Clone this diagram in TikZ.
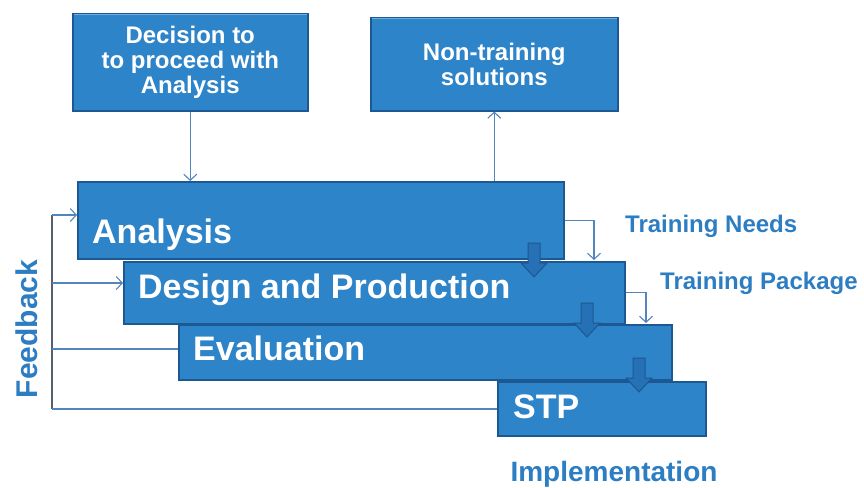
\documentclass[tikz,border=0pt]{standalone}
\usepackage{fontspec}
\setmainfont{Liberation Sans}
\usepackage{xcolor}
\definecolor{azulcaja}{RGB}{46,132,200}
\definecolor{azulosc}{RGB}{28,88,145}
\definecolor{azulcl}{RGB}{110,172,225}
\definecolor{azulflecha}{RGB}{38,112,182}
\definecolor{azultxt}{RGB}{45,125,195}
\definecolor{azullin}{RGB}{82,132,190}
\definecolor{grislin}{RGB}{85,95,110}
\usepackage{tikz}
\usetikzlibrary{shapes, arrows, positioning, arrows.meta}
\newcommand{\B}[1]{\textbf{#1}}
% Flecha gruesa hacia abajo, punta en (#1,#2)
\newcommand{\Flecha}[2]{\filldraw[flecha] (#1-6,#2-34) -- (#1+6,#2-34) -- (#1+6,#2-14) -- (#1+13,#2-14) -- (#1,#2) -- (#1-13,#2-14) -- (#1-6,#2-14) -- cycle;}
\tikzset{
  caja/.style={fill=azulcaja, draw=azulosc, line width=1.5pt, inner sep=0pt, anchor=north west, text=white,
    path picture={\draw[azulcl, line width=2.5pt] (path picture bounding box.south west) -- (path picture bounding box.north west) -- (path picture bounding box.north east);}},
  fase/.style={anchor=base west, text=white, inner sep=0pt, font=\fontsize{34}{40}\selectfont\bfseries},
  etiqueta/.style={anchor=base west, text=azultxt, inner sep=0pt, font=\fontsize{24}{28}\selectfont\bfseries},
  linea/.style={draw=azullin, line width=1.1pt},
  flecha/.style={fill=azulflecha, draw=azulosc, line width=1pt},
  >={Straight Barb[length=6pt,width=13pt]}
}

\begin{document}
\begin{tikzpicture}[x=1pt, y=-1pt]
    \useasboundingbox (0,0) rectangle (864,487);
    % Cajas superiores
    \node[caja, minimum width=235pt, minimum height=97pt, align=center, font=\fontsize{24}{25}\selectfont\bfseries] (decision) at (72,13) {Decision to\\to proceed with\\Analysis};
    \node[caja, minimum width=247pt, minimum height=93pt, align=center, font=\fontsize{24}{25}\selectfont\bfseries] (nontrain) at (370,17) {Non-training\\solutions};
    % Cajas de las fases
    \node[caja, minimum width=486pt, minimum height=77pt] (analysis) at (77,181) {};
    \node[caja, minimum width=501pt, minimum height=62pt] (design) at (123,261) {};
    \node[caja, minimum width=493pt, minimum height=55pt] (evaluation) at (178,324) {};
    \node[caja, minimum width=208pt, minimum height=54pt] (stp) at (497,381) {};
    \node[fase] (tanalysis) at (92,243) {Analysis};
    \node[fase] (tdesign) at (138,298) {Design and Production};
    \node[fase] (tevaluation) at (193,360) {Evaluation};
    \node[fase] (tstp) at (513,418) {STP};
    % Flechas gruesas entre fases
    \Flecha{534}{277}
    \Flecha{587}{337}
    \Flecha{639}{392}
    % Textos exteriores
    \node[etiqueta] (needs) at (625,232) {Training Needs};
    \node[etiqueta] (package) at (660,289) {Training Package};
    \node[anchor=base, text=azultxt, inner sep=0pt, font=\fontsize{28}{32}\selectfont\bfseries] (implem) at (614,481) {Implementation};
    \node[rotate=90, anchor=base, text=azultxt, inner sep=0pt, font=\fontsize{30}{34}\selectfont\bfseries] (feedback) at (37,329) {Feedback};
    % Flechas finas
    \draw[linea, ->] (decision.south |- decision.south) -- (decision.south |- analysis.north);
    \draw[linea, ->] (nontrain.south |- analysis.north) -- (nontrain.south);
    \coordinate (tn) at (594,260);
    \coordinate (tp) at (646,323);
    \draw[linea, ->] (analysis.east) -| (tn);
    \draw[linea, ->] (design.east) -| (tp);
    % Lazo de realimentacion
    \coordinate (fb1) at (52,215);
    \coordinate (fb2) at (52,283);
    \coordinate (fb3) at (52,349);
    \coordinate (fb4) at (52,409);
    \draw[draw=grislin, line width=1.1pt] (fb1) -- (fb4);
    \draw[linea, ->] (fb1) -- (fb1 -| analysis.west);
    \draw[linea, ->] (fb2) -- (fb2 -| design.west);
    \draw[linea] (fb3) -- (fb3 -| evaluation.west);
    \draw[linea] (fb4) -- (fb4 -| stp.west);
\end{tikzpicture}
\end{document}
